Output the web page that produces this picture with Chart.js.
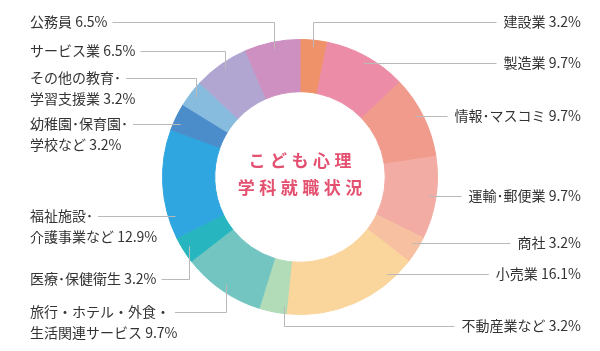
<!DOCTYPE html>
<html lang="ja">
<head>
<meta charset="utf-8">
<script src="https://cdn.jsdelivr.net/npm/chart.js@4"></script>
<style>
  html, body { margin: 0; padding: 0; background: #fff; }
  #wrap { width: 600px; height: 351px; position: relative; }
</style>
</head>
<body>
<div id="wrap"><canvas id="pieChart"></canvas></div>
<script>
// =============== D A T A ================================
const categories = [
  '建設業', '製造業', '情報･マスコミ', '運輸･郵便業', '商社', '小売業', '不動産業など',
  '旅行・ホテル・外食・\n生活関連サービス', '医療･保健衛生', '福祉施設･\n介護事業など',
  '幼稚園･保育園･\n学校など', 'その他の教育･\n学習支援業', 'サービス業', '公務員'
];
const shares = [3.2, 9.7, 9.7, 9.7, 3.2, 16.1, 3.2, 9.7, 3.2, 12.9, 3.2, 3.2, 6.5, 6.5];
const colors = [
  '#ef9169', '#ec8ca7', '#f09b8b', '#f3aca4', '#f7c1a1', '#fad59c', '#b2dbb8',
  '#73c5c1', '#27b6bf', '#2fa6df', '#4b8ccb', '#87bcdf', '#b0a6d1', '#cd90c1'
];
const titleLines = ['こども心理', '学科就職状況'];

// where each label sits (side of the chart, y of its first line, anchor inside the slice)
const labelLayout = [
  { side: 'right', y: 22 }, { side: 'right', y: 63 }, { side: 'right', y: 116 },
  { side: 'right', y: 196 }, { side: 'right', y: 243 }, { side: 'right', y: 274 },
  { side: 'right', y: 326, at: 0.12 },
  { side: 'left', y: 312 }, { side: 'left', y: 279 }, { side: 'left', y: 216 },
  { side: 'left', y: 124 }, { side: 'left', y: 78 }, { side: 'left', y: 51 },
  { side: 'left', y: 22 }
];

// =============== L A B E L S ================================
const outsideLabels = {
  id: 'outsideLabels',
  afterDatasetsDraw(chart) {
    const ctx = chart.ctx;
    const arcs = chart.getDatasetMeta(0).data;
    ctx.save();
    ctx.font = '14px "Noto Sans CJK JP", sans-serif';
    ctx.textBaseline = 'middle';

    arcs.forEach((arc, i) => {
      const p = arc.getProps(['x', 'y', 'startAngle', 'endAngle', 'outerRadius'], true);
      const pos = labelLayout[i];
      const right = pos.side === 'right';
      const lines = categories[i].split('\n');
      lines[lines.length - 1] += ' ' + shares[i] + '%';

      // text
      const tx = right ? 581 : 30;
      ctx.fillStyle = '#333';
      ctx.textAlign = right ? 'right' : 'left';
      lines.forEach((t, k) => ctx.fillText(t, tx, pos.y + k * 20.5));
      const w = ctx.measureText(lines[0]).width;
      const edge = right ? tx - w - 7 : tx + w + 5;

      // anchor: straight across if the label's row hits this slice, else elbow from its middle
      const r = p.outerRadius - 7;
      const dy = pos.y - p.y;
      let ax, ay, straight = false;
      if (Math.abs(dy) < r) {
        const dx = Math.sqrt(r * r - dy * dy) * (right ? 1 : -1);
        let a = Math.atan2(dy, dx);
        while (a < p.startAngle) a += 2 * Math.PI;
        if (a <= p.endAngle) { ax = p.x + dx; ay = pos.y; straight = true; }
      }
      if (!straight) {
        const f = pos.at ?? 0.5;
        const a = p.startAngle + (p.endAngle - p.startAngle) * f;
        ax = p.x + r * Math.cos(a);
        ay = p.y + r * Math.sin(a);
      }

      const ly = Math.round(pos.y) + 0.5;
      ctx.strokeStyle = '#b9b9b9';
      ctx.lineWidth = 1;
      ctx.beginPath();
      if (straight) {
        ctx.moveTo(ax, ly);
      } else {
        const vx = Math.round(ax) + 0.5;
        ctx.moveTo(vx, ay);
        ctx.lineTo(vx, ly);
      }
      ctx.lineTo(edge, ly);
      ctx.stroke();
    });
    ctx.restore();
  },
  afterDraw(chart) {
    // title in the hole
    const ctx = chart.ctx;
    const arc = chart.getDatasetMeta(0).data[0];
    const sp = 4.5;
    ctx.save();
    ctx.font = 'bold 17px "Noto Sans CJK JP", sans-serif';
    ctx.letterSpacing = sp + 'px';
    ctx.fillStyle = '#e4506f';
    ctx.textAlign = 'center';
    ctx.textBaseline = 'middle';
    ctx.fillText(titleLines[0], arc.x + sp / 2, arc.y - 16);
    ctx.fillText(titleLines[1], arc.x + sp / 2, arc.y + 11);
    ctx.restore();
  }
};

// =============== C H A R T ================================
const pieCtx = document.getElementById('pieChart');

new Chart(pieCtx, {
  type: 'doughnut',
  data: {
    labels: categories,
    datasets: [{
      data: shares,
      backgroundColor: colors,
      borderColor: colors,   // same colour as the fill, hides the seams
      borderWidth: 1,
      offset: 0,
      hoverOffset: 0
    }]
  },
  options: {
    responsive: true,
    maintainAspectRatio: false,
    animation: false,
    cutout: '62%',
    layout: {
      padding: { top: 39, bottom: 36, left: 0, right: 0 }
    },
    plugins: {
      legend: { display: false },
      tooltip: { enabled: false }
    }
  },
  plugins: [outsideLabels]
});
</script>
</body>
</html>
